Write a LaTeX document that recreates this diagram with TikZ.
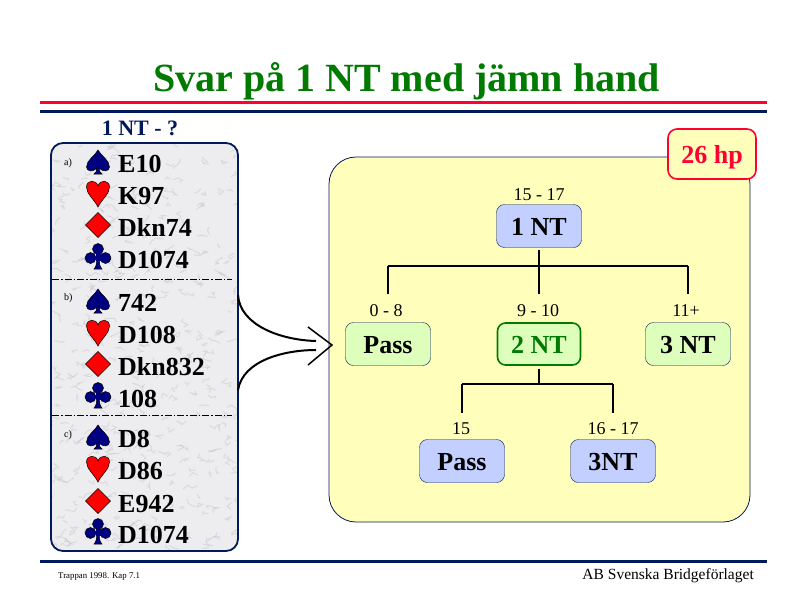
\documentclass[tikz,border=0pt]{standalone}
\usepackage{fontspec}
\setmainfont{Liberation Serif}
\usetikzlibrary{arrows,positioning}
\definecolor{navyline}{HTML}{001A5C}
\definecolor{redline}{HTML}{FF0033}
\definecolor{titlegreen}{HTML}{007A00}
\definecolor{panelyellow}{HTML}{FFFFBB}
\definecolor{bidblue}{HTML}{C3CFFF}
\definecolor{bidgreen}{HTML}{DDFFBB}
\definecolor{suitblue}{HTML}{000080}
\definecolor{suitred}{HTML}{FF0000}
\definecolor{marble}{HTML}{EDEDEF}
\definecolor{vein}{HTML}{BEBEC4}
\tikzset{
  bid/.style={draw=navyline,rounded corners=8pt,inner sep=0pt,minimum width=85pt,minimum height=43pt,text height=24pt,text depth=5pt,font=\fontsize{26}{26}\selectfont\bfseries},
  hcp/.style={inner sep=0pt,anchor=base,font=\fontsize{18}{18}\selectfont},
  cards/.style={inner sep=0pt,anchor=base west,font=\fontsize{26}{26}\selectfont\bfseries},
  pipline/.style={draw=black,line width=.5pt},
  tag/.style={inner sep=0pt,anchor=base west,font=\fontsize{10}{10}\selectfont},
  tree/.style={line width=2pt},
  sweep/.style={line width=2pt},
  pics/spadepip/.style={code={
    \path[pipline,fill=suitblue] (0,-12) .. controls (-3,-6) and (-11.5,-2) .. (-11.5,5)
      .. controls (-11.5,10) and (-4,10) .. (-1.2,6) .. controls (-1.2,9) and (-2,11) .. (-4,12)
      -- (4,12) .. controls (2,11) and (1.2,9) .. (1.2,6)
      .. controls (4,10) and (11.5,10) .. (11.5,5) .. controls (11.5,-2) and (3,-6) .. (0,-12) -- cycle;
  }},
  pics/heartpip/.style={code={
    \path[pipline,fill=suitred] (0,13) .. controls (-4,5) and (-11.5,0) .. (-11.5,-7)
      .. controls (-11.5,-14) and (-2,-15) .. (0,-8)
      .. controls (2,-15) and (11.5,-14) .. (11.5,-7)
      .. controls (11.5,0) and (4,5) .. (0,13) -- cycle;
  }},
  pics/diamondpip/.style={code={
    \path[pipline,fill=suitred] (0,-13.5) -- (12.5,-1) -- (0,11.5) -- (-12.5,-1) -- cycle;
  }},
  pics/clubpip/.style={code={
    \path[pipline,fill=suitblue] (-1.2,0) .. controls (-1.2,6) and (-2,9) .. (-4,11) -- (4,11)
      .. controls (2,9) and (1.2,6) .. (1.2,0) -- cycle;
    \path[pipline,fill=suitblue] (0,-9) circle (5.5pt) (-7.5,0) circle (5.5pt) (7.5,0) circle (5.5pt);
    \fill[suitblue] (-2.5,-4) rectangle (2.5,3);
  }}
}
\begin{document}
\begin{tikzpicture}[x=1pt,y=-1pt,on grid]
  \useasboundingbox (0,0) rectangle (800,600);
  \fill[white] (0,0) rectangle (800,600);

  \node[inner sep=0pt,anchor=base,text=titlegreen,font=\fontsize{40}{40}\selectfont\bfseries] (title) at (406.5,91) {Svar på 1 NT med jämn hand};
  \draw[redline,line width=3pt] (40,102.5) -- (767,102.5);
  \draw[navyline,line width=3pt] (40,111) -- (767,111);
  \draw[navyline,line width=3.5pt] (40,561.5) -- (767,561.5);
  \node[inner sep=0pt,anchor=base,text=navyline,font=\fontsize{22}{22}\selectfont\bfseries] (question) at (140,135) {1 NT - ?};
  \node[tag,font=\fontsize{8.8}{8.8}\selectfont] (source) at (58,578) {Trappan 1998. Kap 7.1};
  \node[inner sep=0pt,anchor=base east,font=\fontsize{15.5}{15.5}\selectfont] (publisher) at (754,579) {AB Svenska Bridgeförlaget};

  \begin{scope}
    \clip[rounded corners=12pt] (51,143) rectangle (238,551);
    \fill[marble] (51,143) rectangle (238,551);
    \pgfmathsetseed{41}
    \foreach \k in {1,...,420}{
      \pgfmathsetmacro{\xa}{50+190*rnd}
      \pgfmathsetmacro{\ya}{140+412*rnd}
      \pgfmathsetmacro{\xb}{\xa+12*rnd-6}
      \pgfmathsetmacro{\yb}{\ya+8*rnd-4}
      \pgfmathsetmacro{\xc}{\xb+12*rnd-6}
      \pgfmathsetmacro{\yc}{\yb+8*rnd-4}
      \pgfmathsetmacro{\xd}{\xc+12*rnd-6}
      \pgfmathsetmacro{\yd}{\yc+8*rnd-4}
      \draw[vein,line width=1pt,opacity=.4] (\xa,\ya) -- (\xb,\yb) -- (\xc,\yc) -- (\xd,\yd);
    }
  \end{scope}
  \draw[navyline,line width=1.8pt,rounded corners=12pt] (51,143) rectangle (238,551);
  \draw[line width=.5pt,dash pattern=on 7pt off 2pt on 1.5pt off 2pt] (52,279) -- (232,279);
  \draw[line width=.5pt,dash pattern=on 7pt off 2pt on 1.5pt off 2pt] (52,415.5) -- (232,415.5);

  \node[tag] (taga) at (64,165) {a)};
  \node[tag] (tagb) at (64,300) {b)};
  \node[tag] (tagc) at (64,437) {c)};

  \foreach \i/\ybase/\pip/\hand in {
      1/172/spadepip/E10, 2/204/heartpip/K97, 3/236/diamondpip/Dkn74, 4/268/clubpip/D1074,
      5/311/spadepip/742, 6/343/heartpip/D108, 7/375/diamondpip/Dkn832, 8/407/clubpip/108,
      9/447/spadepip/D8, 10/479/heartpip/D86, 11/512/diamondpip/E942, 12/543/clubpip/D1074}{
    \pic (pip\i) at (98,\ybase-10) {\pip};
    \node[cards] (hand\i) at (118,\ybase) {\hand};
  }

  \fill[panelyellow,draw=navyline,line width=.8pt,rounded corners=27pt] (329,157) rectangle (750,522);
  \node[draw=redline,line width=1.6pt,fill=panelyellow,rounded corners=9pt,inner sep=0pt,minimum width=88pt,minimum height=50pt,text height=24pt,text depth=5pt,text=redline,font=\fontsize{26}{26}\selectfont\bfseries] (points) at (712,154) {26 hp};

  \node[bid,fill=bidblue]  (open) at (539,226) {1 NT};
  \node[bid,fill=bidgreen] (pass) [below left=118pt and 151pt of open] {Pass};
  \node[bid,fill=bidgreen,draw=titlegreen,line width=1.6pt,minimum width=83pt,minimum height=42pt,text=titlegreen] (twont) [below=118pt of open] {2 NT};
  \node[bid,fill=bidgreen] (threent) [below right=118pt and 149pt of open] {3 NT};
  \node[bid,fill=bidblue]  (passb) [below left=117pt and 77pt of twont] {Pass};
  \node[bid,fill=bidblue]  (threentb) [below right=117pt and 74pt of twont] {3NT};

  \node[hcp] (ropen) at (539,200) {15 - 17};
  \node[hcp] (rpass) at (386,316) {0 - 8};
  \node[hcp] (rtwo) at (538,316) {9 - 10};
  \node[hcp] (rthree) at (686,316) {11+};
  \node[hcp] (rpassb) at (461,434) {15};
  \node[hcp] (rthreeb) at (613,434) {16 - 17};

  \coordinate (opendrop) at (539,250);
  \coordinate (twodrop) at (539,369);
  \coordinate (barl) at (388,266);
  \coordinate (barc) at (539,266);
  \coordinate (barr) at (688,266);
  \coordinate (endl) at (388,294);
  \coordinate (endc) at (539,294);
  \coordinate (endr) at (688,294);
  \coordinate (lowl) at (462,384);
  \coordinate (lowc) at (539,384);
  \coordinate (lowr) at (613,384);
  \coordinate (lowendl) at (462,412.5);
  \coordinate (lowendr) at (613,412.5);
  \path (opendrop) edge [tree] (endc)
        (barl)     edge [tree] (barr)
        (barl)     edge [tree] (endl)
        (barr)     edge [tree] (endr)
        (twodrop)  edge [tree] (lowc)
        (lowl)     edge [tree,line width=2.5pt] (lowr)
        (lowl)     edge [tree] (lowendl)
        (lowr)     edge [tree] (lowendr);

  \coordinate (upstart) at (238,295);
  \coordinate (upend) at (316,341);
  \coordinate (lostart) at (238,390);
  \coordinate (loend) at (316,350);
  \coordinate (tip) at (332,345);
  \coordinate (tipup) at (308,327);
  \coordinate (tiplo) at (308,365);
  \draw[sweep] (upstart) .. controls (240,325) and (280,340) .. (upend);
  \draw[sweep] (lostart) .. controls (243,360) and (285,350) .. (loend);
  \draw[line width=1.5pt] (tipup) -- (tip) -- (tiplo);
\end{tikzpicture}
\end{document}
